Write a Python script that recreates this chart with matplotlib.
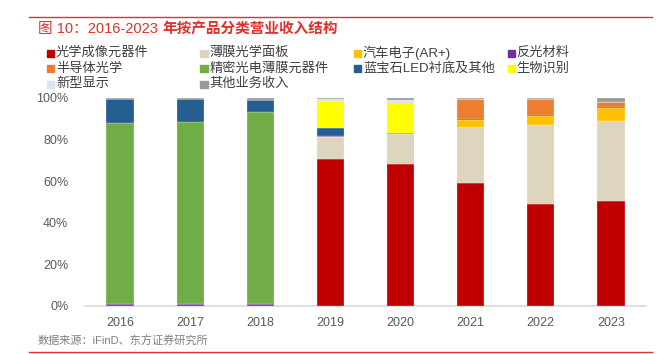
import numpy as np
import matplotlib
matplotlib.use("Agg")
from matplotlib import pyplot as plt
from matplotlib.patches import Rectangle

plt.rcParams["font.family"] = ["Liberation Sans", "Noto Sans CJK SC", "DejaVu Sans"]

years = ["2016", "2017", "2018", "2019", "2020", "2021", "2022", "2023"]

# share of revenue, %
imaging = [0, 0, 0, 70.5, 68.2, 59.2, 48.8, 50.6]       # 光学成像元器件
film_panel = [0, 0, 0, 10.7, 14.6, 26.8, 38.2, 38.5]    # 薄膜光学面板
auto_ar = [0, 0, 0, 0, 0, 3.4, 4.5, 5.9]                # 汽车电子(AR+)
reflective = [1.0, 1.0, 0.8, 0.4, 0.5, 0.4, 0.5, 0.5]   # 反光材料
semi = [0, 0, 0, 0, 0, 9.6, 7.4, 2.5]                   # 半导体光学
precision = [87.0, 87.3, 92.5, 0, 0, 0, 0, 0]           # 精密光电薄膜元器件
sapphire = [11.4, 11.4, 5.7, 4.0, 0, 0, 0, 0]           # 蓝宝石LED衬底及其他
biometric = [0, 0, 0, 12.8, 14.5, 0, 0, 0]              # 生物识别
display = [0, 0, 0, 1.1, 1.1, 0, 0, 0]                  # 新型显示
other = [0.6, 0.3, 1.0, 0.5, 1.1, 0.6, 0.6, 2.0]        # 其他业务收入

series = [
    ("光学成像元器件", imaging, "#C00000"),
    ("薄膜光学面板", film_panel, "#DDD5BD"),
    ("汽车电子(AR+)", auto_ar, "#FFC000"),
    ("反光材料", reflective, "#7030A0"),
    ("半导体光学", semi, "#ED7D31"),
    ("精密光电薄膜元器件", precision, "#70AD47"),
    ("蓝宝石LED衬底及其他", sapphire, "#255E91"),
    ("生物识别", biometric, "#FFFF00"),
    ("新型显示", display, "#DAE3F3"),
    ("其他业务收入", other, "#999999"),
]

fig = plt.figure(figsize=(6.71, 3.54), dpi=100)
ax = fig.add_axes([0.1267, 0.1364, 0.836, 0.5868])

x = np.arange(len(years))
bottom = np.zeros(len(years))
for name, vals, color in series:
    v = np.array(vals) / 100
    ax.bar(x, v, bottom=bottom, width=0.39, color=color,
           edgecolor="#F2F2F2", linewidth=0.2)
    bottom += v

ax.set_xlim(-0.5, len(years) - 0.5)
ax.set_ylim(0, 1)
ax.set_yticks(np.arange(0, 1.01, 0.2))
ax.set_yticklabels([f"{int(t * 100)}%" for t in np.arange(0, 1.01, 0.2)])
ax.set_xticks(x)
ax.set_xticklabels(years)
ax.tick_params(length=0, labelsize=9, colors="#595959", pad=8)
ax.tick_params(axis="y", pad=12)
for s in ["top", "right", "left"]:
    ax.spines[s].set_visible(False)
ax.spines["bottom"].set_color("#D9D9D9")
ax.spines["bottom"].set_linewidth(1.2)
ax.spines["bottom"].set_zorder(0)

# legend, 4 columns
W, H = 671, 354
for i, (name, vals, color) in enumerate(series):
    col, row = i % 4, i // 4
    px = 47 + col * 153.5
    py = 53 + row * 15.5
    fig.patches.append(Rectangle(((px) / W, 1 - (py + 3.5) / H), 7 / W, 7 / H,
                                 transform=fig.transFigure, color=color))
    fig.text((px + 9) / W, 1 - py / H, name, fontsize=9.5, color="#404040",
             va="center", ha="left")

# title: number part regular, Chinese part bold
red = "#E0312B"
t1 = fig.text(38 / W, 1 - 29 / H, "图 10：2016-2023 ", fontsize=10.5,
              color=red, va="center")
fig.canvas.draw()
bb = t1.get_window_extent()
fig.text(bb.x1 / W, 1 - 29 / H, "年按产品分类营业收入结构", fontsize=10.5,
         color=red, fontweight="bold", va="center")

fig.add_artist(plt.Line2D([29 / W, 652 / W], [1 - 17 / H, 1 - 17 / H],
                          color=red, linewidth=1))
fig.add_artist(plt.Line2D([29 / W, 652 / W], [1 - 352 / H, 1 - 352 / H],
                          color=red, linewidth=1))
fig.text(38 / W, 1 - 341 / H, "数据来源：iFinD、东方证券研究所",
         fontsize=8, color="#7F7F7F", va="center")

fig.savefig("out.png", dpi=100, facecolor="white")
